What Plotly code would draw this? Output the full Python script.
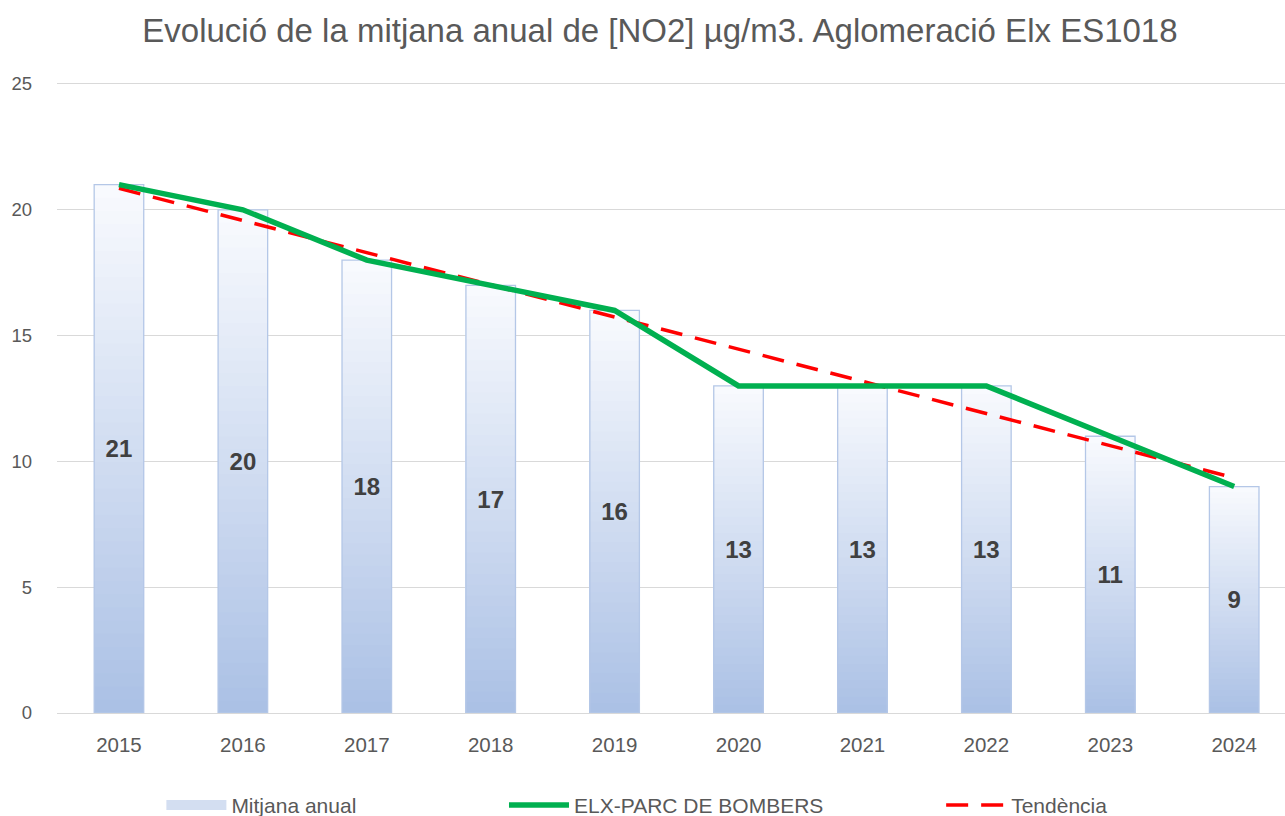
import numpy as np
import plotly.graph_objects as go

years = ["2015", "2016", "2017", "2018", "2019", "2020", "2021", "2022", "2023", "2024"]
mitjana = [21, 20, 18, 17, 16, 13, 13, 13, 11, 9]
estacio = [21, 20, 18, 17, 16, 13, 13, 13, 11, 9]
y_ticks = [0, 5, 10, 15, 20, 25]

FONT = "Liberation Sans"
TXT = "#595959"

# linear trend (Excel-style)
xi = np.arange(len(mitjana))
slope, icpt = np.polyfit(xi, mitjana, 1)
trend = list(icpt + slope * xi)

fig = go.Figure()

# gradient bars: nested bars from full height (light) to short (dark)
N = 40
top = np.array([248, 250, 254])
bot = np.array([170, 192, 229])
vals = np.array(mitjana, dtype=float)
for k in range(N):
    f = 1 - k / N
    c = bot + (top - bot) * f
    fig.add_trace(go.Bar(
        x=years, y=list(vals * f), width=0.4,
        marker=dict(color=f"rgb({int(c[0])},{int(c[1])},{int(c[2])})", line=dict(width=0)),
        showlegend=False, hoverinfo="skip"))

# outline + labels
fig.add_trace(go.Bar(
    x=years, y=mitjana, width=0.4, name="Mitjana anual",
    marker=dict(color="rgba(0,0,0,0)", line=dict(color="#b4c7e7", width=1.3)),
    text=[str(v) for v in mitjana], textposition="inside", insidetextanchor="middle",
    textangle=0,
    textfont=dict(family=FONT, size=24, color="#404040", weight="bold"),
    showlegend=False))

# legend proxy for bars
fig.add_trace(go.Scatter(
    x=[None], y=[None], name="Mitjana anual", legend="legend", mode="lines",
    line=dict(color="#d3def1", width=12)))

fig.add_trace(go.Scatter(
    x=years, y=trend, mode="lines", name="Tendència", legend="legend3",
    line=dict(color="#ff0000", width=3.5, dash="22px,13px")))

fig.add_trace(go.Scatter(
    x=years, y=estacio, mode="lines", name="ELX-PARC DE BOMBERS", legend="legend2",
    line=dict(color="#00b050", width=5.5)))

legend_common = dict(orientation="h", yanchor="middle", y=-0.147, xanchor="left",
                     font=dict(family=FONT, size=21, color=TXT),
                     bgcolor="rgba(0,0,0,0)", itemwidth=60)

fig.update_layout(
    width=1285, height=816,
    barmode="overlay",
    plot_bgcolor="white", paper_bgcolor="white",
    margin=dict(l=57, r=0, t=84, b=103, autoexpand=False),
    title=dict(text="Evolució de la mitjana anual de [NO2] µg/m3. Aglomeració Elx ES1018",
               x=0.491, xref="paper", xanchor="center", y=0.963, yanchor="middle",
               font=dict(family=FONT, size=33, color=TXT)),
    xaxis=dict(type="category", range=[-0.5, 9.41], showgrid=False,
               showline=True, linecolor="#d9d9d9", linewidth=1.3, mirror=True,
               ticks="", ticklabelstandoff=13,
               tickfont=dict(family=FONT, size=20.5, color=TXT)),
    yaxis=dict(range=[0, 25], tickvals=y_ticks, showgrid=True, gridcolor="#d9d9d9",
               gridwidth=1.3, zeroline=False, ticks="", ticklabelstandoff=24,
               tickfont=dict(family=FONT, size=18.5, color=TXT)),
    legend=dict(**legend_common, x=0.085),
    legend2=dict(**legend_common, x=0.364),
    legend3=dict(**legend_common, x=0.72),
    showlegend=True,
)

fig.write_html("out.html", config={"displayModeBar": False},
               post_script="document.body.style.margin='0';document.body.style.overflow='hidden';")
